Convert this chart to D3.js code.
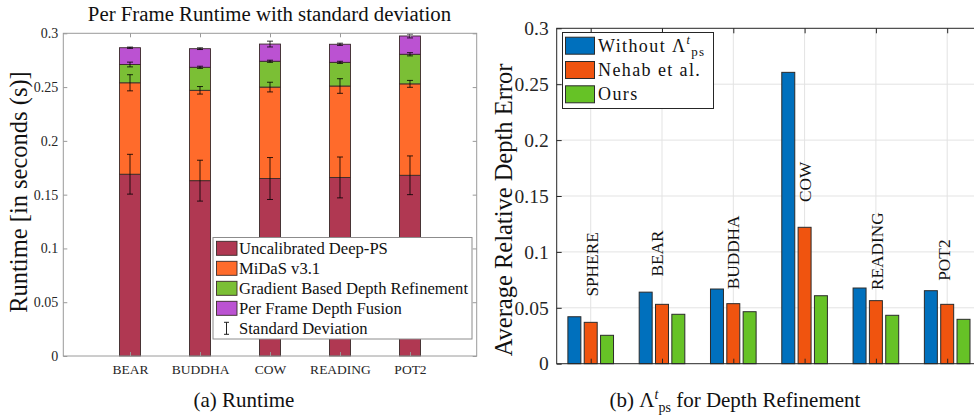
<!DOCTYPE html>
<html>
<head>
<meta charset="utf-8">
<script src="https://cdn.jsdelivr.net/npm/d3@7"></script>
<style>
  body { margin: 0; background: #fff; }
  svg { display: block; font-family: "Liberation Serif", "Times New Roman", serif; }
</style>
</head>
<body>
<svg id="fig" width="974" height="416"></svg>
<script>
// ---- data: (a) runtime ----
var runtimeCats = ["BEAR", "BUDDHA", "COW", "READING", "POT2"];
var runtimeSeries = ["Uncalibrated Deep-PS", "MiDaS v3.1", "Gradient Based Depth Refinement", "Per Frame Depth Fusion"];
var deepPS   = [0.169, 0.163, 0.165, 0.166, 0.168];
var midas    = [0.085, 0.084, 0.085, 0.085, 0.085];
var gradient = [0.017, 0.0214, 0.024, 0.022, 0.0275];
var fusion   = [0.0156, 0.0173, 0.016, 0.0168, 0.017];
var deepPSStd   = [0.0185, 0.019, 0.0195, 0.019, 0.018];
var midasStd    = [0.0075, 0.0035, 0.0045, 0.0068, 0.0032];
var gradientStd = [0.0022, 0.001, 0.001, 0.001, 0.0015];
var fusionStd   = [0.0006, 0.0008, 0.0027, 0.001, 0.0018];
var runtimeTicks = [0, 0.05, 0.1, 0.15, 0.2, 0.25, 0.3];

// ---- data: (b) depth error ----
var depthCats = ["SPHERE", "BEAR", "BUDDHA", "COW", "READING", "POT2"];
var depthSeries = ["Without", "Nehab et al.", "Ours"];
var withoutL = [0.042, 0.064, 0.0668, 0.2606, 0.0677, 0.0653];
var nehab    = [0.037, 0.0531, 0.0537, 0.122, 0.0564, 0.0531];
var ours     = [0.0254, 0.0442, 0.0465, 0.0608, 0.0433, 0.0397];
// hand placed category labels (x in category units, y in data units)
var labelX = [1.014, 1.926, 2.996, 4.01, 5.014, 5.95];
var labelY = [0.060, 0.078, 0.0665, 0.1446, 0.0659, 0.0742];
var depthTicks = [0, 0.05, 0.1, 0.15, 0.2, 0.25, 0.3];

var svg = d3.select("#fig");
var txtCol = "#262626";

// =============== (a) stacked runtime bars ===============
var ra = { left: 63.3, right: 476.7, top: 33.3, bottom: 356 };
var xa = d3.scaleLinear().domain([0.047, 5.953]).range([ra.left, ra.right]);
var ya = d3.scaleLinear().domain([0, 0.3]).range([ra.bottom, ra.top]);
var runColors = ["#b03852", "#ff6b2b", "#7bbf35", "#bb52d2"];

var stackInput = runtimeCats.map(function(c, i) {
  return { cat: c, i: i, s0: deepPS[i], s1: midas[i], s2: gradient[i], s3: fusion[i] };
});
var stacked = d3.stack().keys(["s0", "s1", "s2", "s3"])(stackInput);
var stds = [deepPSStd, midasStd, gradientStd, fusionStd];

var ga = svg.append("g");

stacked.forEach(function(layer, k) {
  ga.selectAll(".bar" + k)
    .data(layer)
    .enter().append("rect")
      .attr("x", function(d) { return xa(d.data.i + 1 - 0.15); })
      .attr("width", xa(1.3) - xa(1))
      .attr("y", function(d) { return ya(d[1]); })
      .attr("height", function(d) { return ya(d[0]) - ya(d[1]); })
      .attr("fill", runColors[k])
      .attr("stroke", "#3a2a2a")
      .attr("stroke-width", 0.9);
});

// error bars at the top of each segment
stacked.forEach(function(layer, k) {
  layer.forEach(function(d) {
    var cx = xa(d.data.i + 1);
    var s = stds[k][d.data.i];
    var y1 = ya(d[1] + s), y2 = ya(d[1] - s);
    ga.append("line").attr("x1", cx).attr("x2", cx).attr("y1", y1).attr("y2", y2)
      .attr("stroke", "#000").attr("stroke-opacity", 0.8).attr("stroke-width", 1);
    [y1, y2].forEach(function(yy) {
      ga.append("line").attr("x1", cx - 3).attr("x2", cx + 3).attr("y1", yy).attr("y2", yy)
        .attr("stroke", "#000").attr("stroke-opacity", 0.8).attr("stroke-width", 1);
    });
  });
});

// axes (ticks inside, MATLAB box)
var axCol = "#9a9a9a";
var yAxA = ga.append("g").attr("transform", "translate(" + ra.left + ",0)")
  .call(d3.axisLeft(ya).tickValues(runtimeTicks).tickSize(-4).tickPadding(5).tickFormat(String));
var yAxA2 = ga.append("g").attr("transform", "translate(" + ra.right + ",0)")
  .call(d3.axisRight(ya).tickValues(runtimeTicks).tickSize(-4).tickFormat(""));
var xAxA = ga.append("g").attr("transform", "translate(0," + ra.bottom + ")")
  .call(d3.axisBottom(xa).tickValues([1, 2, 3, 4, 5]).tickSize(-4).tickPadding(8)
    .tickFormat(function(d) { return runtimeCats[d - 1]; }));
var xAxA2 = ga.append("g").attr("transform", "translate(0," + ra.top + ")")
  .call(d3.axisTop(xa).tickValues([1, 2, 3, 4, 5]).tickSize(-4).tickFormat(""));
[yAxA, yAxA2, xAxA, xAxA2].forEach(function(a) {
  a.select(".domain").remove();
  a.selectAll("line").attr("stroke", axCol);
  a.selectAll("text").attr("fill", txtCol).style("font-family", "Liberation Serif").style("font-size", "14px");
});
xAxA.selectAll("text").style("font-size", "13.5px");
ga.append("rect").attr("x", ra.left).attr("y", ra.top)
  .attr("width", ra.right - ra.left).attr("height", ra.bottom - ra.top)
  .attr("fill", "none").attr("stroke", axCol).attr("stroke-width", 1);

ga.append("text").attr("x", 269.5).attr("y", 21).attr("text-anchor", "middle")
  .style("font-size", "20.8px").attr("fill", "#111").text("Per Frame Runtime with standard deviation");
ga.append("text").attr("transform", "translate(27,192) rotate(-90)").attr("text-anchor", "middle")
  .style("font-size", "24.5px").attr("fill", "#111").text("Runtime [in seconds (s)]");
ga.append("text").attr("x", 244).attr("y", 407).attr("text-anchor", "middle")
  .style("font-size", "21px").attr("fill", "#111").text("(a) Runtime");

// legend (a)
var la = ga.append("g");
la.append("rect").attr("x", 213).attr("y", 237.5).attr("width", 259).attr("height", 101.5)
  .attr("fill", "#fff").attr("stroke", "#8c8c8c").attr("stroke-width", 1);
var legRowsA = runtimeSeries.concat(["Standard Deviation"]);
legRowsA.forEach(function(name, k) {
  var cy = 248.3 + k * 20;
  if (k < 4) {
    la.append("rect").attr("x", 216.5).attr("y", cy - 7).attr("width", 20.5).attr("height", 14)
      .attr("fill", runColors[k]).attr("stroke", "#3a2a2a").attr("stroke-width", 0.9);
  } else {
    la.append("line").attr("x1", 226.5).attr("x2", 226.5).attr("y1", cy - 6).attr("y2", cy + 6).attr("stroke", "#222");
    la.append("line").attr("x1", 224).attr("x2", 229).attr("y1", cy - 6).attr("y2", cy - 6).attr("stroke", "#222");
    la.append("line").attr("x1", 224).attr("x2", 229).attr("y1", cy + 6).attr("y2", cy + 6).attr("stroke", "#222");
  }
  la.append("text").attr("x", 239).attr("y", cy + 5.5).style("font-size", "16.6px").attr("fill", "#111").text(name);
});

// =============== (b) grouped depth error bars ===============
var rb = { left: 556.7, right: 981.2, top: 28.3, bottom: 363.7 };
var xb = d3.scaleLinear().domain([0.523, 6.477]).range([rb.left, rb.right]);
var yb = d3.scaleLinear().domain([0, 0.3]).range([rb.bottom, rb.top]);
var depthColors = ["#0070bd", "#f0540f", "#66c226"];
var depthData = [withoutL, nehab, ours];
var offsets = [-0.229, 0, 0.229];
var bw = 0.182;

var gb = svg.append("g");

// grid
gb.selectAll(".hgrid").data(depthTicks.slice(1, -1)).enter().append("line")
  .attr("x1", rb.left).attr("x2", rb.right)
  .attr("y1", function(d) { return yb(d); }).attr("y2", function(d) { return yb(d); })
  .attr("stroke", "#e3e3e3").attr("stroke-width", 1);
gb.selectAll(".vgrid").data(d3.range(1, depthCats.length + 1)).enter().append("line")
  .attr("x1", function(d) { return xb(d); }).attr("x2", function(d) { return xb(d); })
  .attr("y1", rb.top).attr("y2", rb.bottom)
  .attr("stroke", "#e3e3e3").attr("stroke-width", 1);

depthData.forEach(function(vals, k) {
  gb.selectAll(".gbar" + k)
    .data(vals)
    .enter().append("rect")
      .attr("x", function(d, i) { return xb(i + 1 + offsets[k] - bw / 2); })
      .attr("width", xb(1 + bw) - xb(1))
      .attr("y", function(d) { return yb(d); })
      .attr("height", function(d) { return yb(0) - yb(d); })
      .attr("fill", depthColors[k])
      .attr("stroke", "#2b2b2b")
      .attr("stroke-width", 1);
});

// rotated category labels
gb.selectAll(".clab").data(depthCats).enter().append("text")
  .attr("transform", function(d, i) {
    return "translate(" + (xb(labelX[i]) + 6) + "," + yb(labelY[i]) + ") rotate(-90)";
  })
  .style("font-size", "17.3px").attr("fill", "#111").text(function(d) { return d; });

var yAxB = gb.append("g").attr("transform", "translate(" + rb.left + ",0)")
  .call(d3.axisLeft(yb).tickValues(depthTicks).tickSize(-5).tickPadding(8).tickFormat(String));
var xAxB2 = gb.append("g").attr("transform", "translate(0," + rb.top + ")")
  .call(d3.axisTop(xb).tickValues(d3.range(1, 7)).tickSize(-5).tickFormat(""));
var xAxB = gb.append("g").attr("transform", "translate(0," + rb.bottom + ")")
  .call(d3.axisBottom(xb).tickValues(d3.range(1, 7)).tickSize(-5).tickFormat(""));
[yAxB, xAxB, xAxB2].forEach(function(a) {
  a.select(".domain").remove();
  a.selectAll("line").attr("stroke", "#262626");
  a.selectAll("text").attr("fill", txtCol).style("font-family", "Liberation Serif").style("font-size", "19.5px");
});
gb.append("rect").attr("x", rb.left).attr("y", rb.top)
  .attr("width", rb.right - rb.left).attr("height", rb.bottom - rb.top)
  .attr("fill", "none").attr("stroke", "#262626").attr("stroke-width", 1);

gb.append("text").attr("transform", "translate(512,210) rotate(-90)").attr("text-anchor", "middle")
  .style("font-size", "24.5px").attr("fill", "#111").text("Average Relative Depth Error");

var capB = gb.append("text").attr("x", 735).attr("y", 407).attr("text-anchor", "middle")
  .style("font-size", "21px").attr("fill", "#111");
capB.append("tspan").text("(b) \u039B");
capB.append("tspan").attr("dy", -8).style("font-size", "14px").style("font-style", "italic").text("t");
capB.append("tspan").attr("dx", 0).attr("dy", 13).style("font-size", "14px").text("ps");
capB.append("tspan").attr("dy", -5).text(" for Depth Refinement");

// legend (b)
var lb = gb.append("g");
lb.append("rect").attr("x", 562.5).attr("y", 32.5).attr("width", 151).attr("height", 76)
  .attr("fill", "#fff").attr("stroke", "#262626").attr("stroke-width", 1);
depthSeries.forEach(function(name, k) {
  var cy = 45.7 + k * 24.3;
  lb.append("rect").attr("x", 565.5).attr("y", cy - 8.5).attr("width", 29).attr("height", 17)
    .attr("fill", depthColors[k]).attr("stroke", "#2b2b2b").attr("stroke-width", 1);
  var t = lb.append("text").attr("x", 598).attr("y", cy + 6).style("font-size", "18px")
    .style("letter-spacing", "1.4px").attr("fill", "#111");
  t.append("tspan").text(name);
  if (k === 0) {
    t.append("tspan").text(" \u039B");
    t.append("tspan").attr("dy", -8).style("font-size", "12px").style("font-style", "italic").text("t");
    t.append("tspan").attr("dx", 0).attr("dy", 12).style("font-size", "13px").text("ps");
  }
});
</script>
</body>
</html>
